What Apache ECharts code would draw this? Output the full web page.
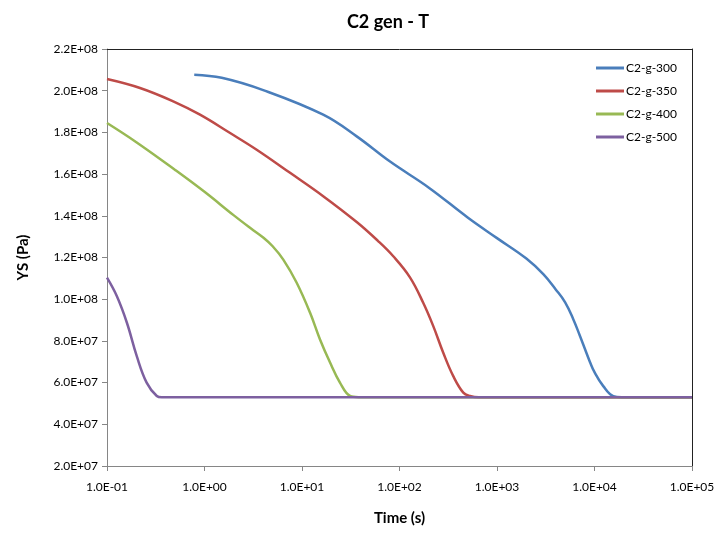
<!DOCTYPE html>
<html>
<head>
<meta charset="utf-8">
<script src="https://cdn.jsdelivr.net/npm/echarts@6/dist/echarts.min.js"></script>
<style>html,body{margin:0;padding:0;background:#fff}#c{width:720px;height:535px}</style>
</head>
<body>
<div id="c"></div>
<script>
const seriesNames = ['C2-g-300', 'C2-g-350', 'C2-g-400', 'C2-g-500'];
const xTicks = [0.1, 1, 10, 100, 1000, 10000, 100000];

const t300 = [0.785, 1.5, 4.0, 16.5, 36.4, 80, 200, 500, 1000, 2000, 3000, 4000, 5000, 6070, 7000, 8000, 9000, 10000, 12300, 15600, 19000, 30000, 100000];
const y300 = [2.077e8, 2.062e8, 2.003e8, 1.885e8, 1.781e8, 1.660e8, 1.535e8, 1.392e8, 1.293e8, 1.195e8, 1.119e8, 1.047e8, 0.985e8, 0.903e8, 0.831e8, 0.760e8, 0.698e8, 0.650e8, 0.583e8, 0.535e8, 0.530e8, 0.530e8, 0.530e8];

const t350 = [0.1, 0.218, 0.478, 0.899, 1.83, 3.43, 7.54, 16.5, 36.4, 60, 86.3, 128, 175, 222, 281, 356, 451, 529, 650, 1000, 100000];
const y350 = [2.056e8, 2.013e8, 1.949e8, 1.885e8, 1.797e8, 1.717e8, 1.606e8, 1.494e8, 1.370e8, 1.280e8, 1.206e8, 1.105e8, 0.983e8, 0.871e8, 0.743e8, 0.631e8, 0.552e8, 0.536e8, 0.530e8, 0.530e8, 0.530e8];

const t400 = [0.1, 0.2, 0.5, 1.0, 2.0, 3.0, 4.0, 5.0, 6.43, 8.82, 12.1, 15.3, 19.4, 24.5, 31.1, 38, 60, 100000];
const y400 = [1.845e8, 1.753e8, 1.620e8, 1.515e8, 1.402e8, 1.339e8, 1.296e8, 1.254e8, 1.190e8, 1.079e8, 0.935e8, 0.807e8, 0.696e8, 0.600e8, 0.536e8, 0.530e8, 0.530e8, 0.530e8];

const t500 = [0.1, 0.126, 0.160, 0.202, 0.255, 0.324, 0.364, 0.6, 100000];
const y500 = [1.103e8, 1.015e8, 0.887e8, 0.727e8, 0.600e8, 0.536e8, 0.530e8, 0.530e8, 0.530e8];

const colors = ['#4A7EBB', '#BE4B48', '#98B954', '#7D60A0'];
const FONT = 'Lato';

function sci(v) {
  const e = Math.floor(Math.log10(Math.abs(v)) + 1e-9);
  const m = v / Math.pow(10, e);
  return m.toFixed(1) + 'E' + (e < 0 ? '-' : '+') + String(Math.abs(e)).padStart(2, '0');
}
function pairs(t, y) { return t.map((v, i) => [v, y[i]]); }

const allT = [t300, t350, t400, t500];
const allY = [y300, y350, y400, y500];

const chart = echarts.init(document.getElementById('c'), null, { renderer: 'canvas' });
chart.setOption({
  animation: false,
  backgroundColor: '#fff',
  title: {
    text: 'C2 gen - T', left: 383, top: 8, textAlign: 'center',
    textStyle: { fontFamily: FONT, fontSize: 18, fontWeight: 'bold', color: '#000' }
  },
  legend: {
    orient: 'vertical', right: 38, top: 57, itemWidth: 28, itemHeight: 3, itemGap: 11,
    icon: 'rect',
    textStyle: { fontFamily: FONT, fontSize: 12, color: '#000', padding: [0, 0, 0, -3] },
    data: seriesNames
  },
  grid: { left: 107, right: 28, top: 49, bottom: 69, show: false },
  xAxis: [{
    type: 'log', logBase: 10, min: 0.1, max: 100000, splitNumber: 6,
    name: 'Time (s)', nameLocation: 'middle', nameGap: 45,
    nameTextStyle: { fontFamily: FONT, fontSize: 15, fontWeight: 'bold', color: '#000' },
    axisLine: { lineStyle: { color: '#868686', width: 1 } },
    axisTick: { show: true, length: 5, inside: false, lineStyle: { color: '#868686' } },
    minorTick: { show: false },
    splitLine: { show: false },
    axisLabel: { margin: 15, fontFamily: FONT, fontSize: 12, color: '#000', formatter: v => sci(v) }
  }, {
    type: 'log', logBase: 10, min: 0.1, max: 100000, position: 'top',
    axisLine: { show: true, lineStyle: { color: '#222', width: 1 } },
    axisTick: { show: false }, axisLabel: { show: false }, splitLine: { show: false }
  }],
  yAxis: [{
    type: 'value', min: 2e7, max: 2.2e8, interval: 2e7,
    name: 'YS (Pa)', nameLocation: 'middle', nameGap: 76, nameRotate: 90,
    nameTextStyle: { fontFamily: FONT, fontSize: 15, fontWeight: 'bold', color: '#000' },
    axisLine: { show: true, lineStyle: { color: '#868686', width: 1 } },
    axisTick: { show: true, length: 5, inside: false, lineStyle: { color: '#868686' } },
    splitLine: { show: false },
    axisLabel: { margin: 9, fontFamily: FONT, fontSize: 12, color: '#000', formatter: v => sci(v) }
  }, {
    type: 'value', min: 2e7, max: 2.2e8, position: 'right',
    axisLine: { show: true, lineStyle: { color: '#222', width: 1 } },
    axisTick: { show: false }, axisLabel: { show: false }, splitLine: { show: false }
  }],
  series: seriesNames.map((n, i) => ({
    name: n, type: 'line', xAxisIndex: 0, yAxisIndex: 0,
    data: pairs(allT[i], allY[i]),
    showSymbol: false, symbol: 'none', smooth: 0.4,
    lineStyle: { color: colors[i], width: 2.5 },
    itemStyle: { color: colors[i] },
    z: 2 + i
  }))
});
</script>
</body>
</html>
